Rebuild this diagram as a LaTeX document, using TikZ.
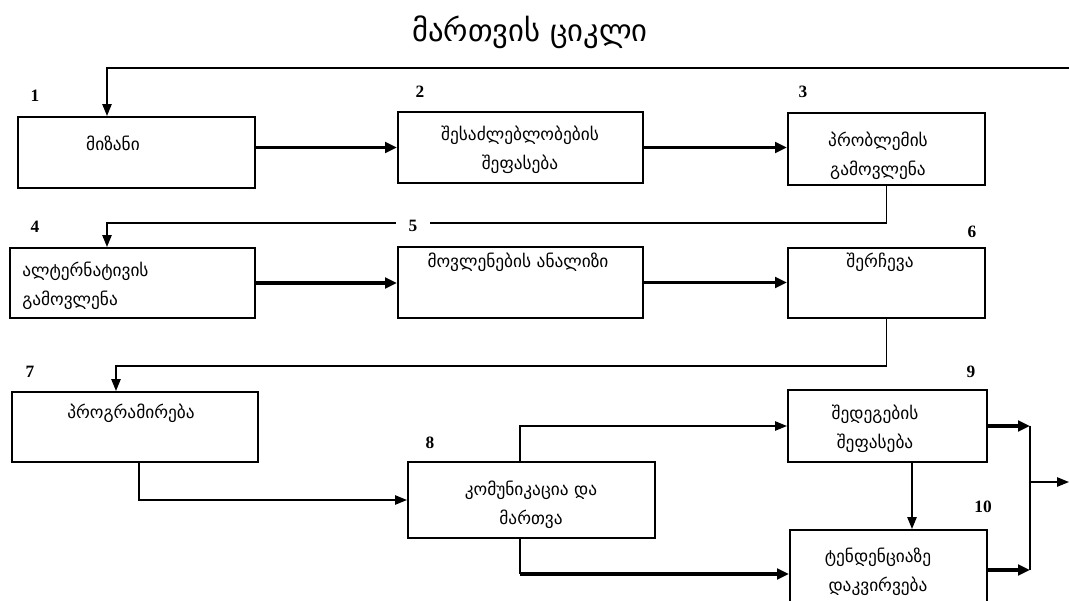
\documentclass[tikz,border=0pt]{standalone}
\usepackage{fontspec}
\setmainfont{DejaVu Sans}
\newfontfamily\numfont{Liberation Serif}
\usetikzlibrary{arrows.meta,fit,calc}
\begin{document}
\begin{tikzpicture}[x=0.75pt,y=-0.75pt,
  box/.style={draw, line width=1.5pt, inner sep=0pt},
  txt/.style={font=\fontsize{13}{22}\selectfont, align=center, inner sep=0pt},
  num/.style={font=\numfont\bfseries\fontsize{13}{15}\selectfont, inner sep=1pt},
  thk/.style={line width=2.5pt, -{Triangle[length=9pt,width=8pt]}},
  thn/.style={line width=1.2pt, -{Triangle[length=9pt,width=7pt]}},
  thnl/.style={line width=1.2pt}]
\useasboundingbox (0,0) rectangle (1069,600);
\node[font=\fontsize{23}{26}\selectfont] (title) at (530,32) {მართვის ციკლი};
% boxes
\node[box, fit={(18,117) (255,188)}] (b1) {};
\node[box, fit={(398,112) (643,183)}] (b2) {};
\node[box, fit={(788,113) (985,185)}] (b3) {};
\node[box, fit={(10,248) (255,318)}] (b4) {};
\node[box, fit={(398,247) (643,318)}] (b5) {};
\node[box, fit={(788,248) (985,318)}] (b6) {};
\node[box, fit={(12,392) (258,462)}] (b7) {};
\node[box, fit={(408,462) (655,538)}] (b8) {};
\node[box, fit={(788,390) (987,462)}] (b9) {};
\node[box, fit={(790,530) (987,602)}] (b10) {};
% texts
\node[txt] (t1) at (113,143) {მიზანი};
\node[txt] (t2) at (520,150) {შესაძლებლობების\\შეფასება};
\node[txt] (t3) at (878,156) {პრობლემის\\გამოვლენა};
\node[txt, align=left, anchor=west] (t4) at (22,286) {ალტერნატივის\\გამოვლენა};
\node[txt] (t5) at (518,262) {მოვლენების ანალიზი};
\node[txt] (t6) at (880,262) {შერჩევა};
\node[txt] (t7) at (131,413) {პროგრამირება};
\node[txt] (t8) at (531,505) {კომუნიკაცია და\\მართვა};
\node[txt] (t9) at (875,429) {შედეგების\\შეფასება};
\node[txt] (t10) at (878,572) {ტენდენციაზე\\დაკვირვება};
% connector helpers
\coordinate (R) at (1069,68);
\coordinate (J) at (1030,482);
\coordinate (E) at (1069,482);
\coordinate (b10o) at ($(b10.north east)+(0,41)$);
\coordinate (b10i) at ($(b10.north west)+(0,45)$);
\coordinate (b8o) at ($(b8.south west)+(113,0)$);
% connectors
\draw[thn] (R) -| ($(b1.north west)+(90,0)$);
\draw[thk] (b2.west -| b1.east) -- (b2.west);
\draw[thk] (b2.east) -- (b2.east -| b3.west);
\draw[thn] (b3.south) -- ++(0,37) -| ($(b4.north west)+(98,0)$);
\draw[thk] (b4.east) -- (b4.east -| b5.west);
\draw[thk] (b5.east) -- (b5.east -| b6.west);
\draw[thn] (b6.south) -- ++(0,47) -| ($(b7.north west)+(105,0)$);
\draw[thn] ($(b7.south west)+(128,0)$) |- (b8.west);
\draw[thn] ($(b8.north west)+(113,0)$) |- (b9.west);
\draw[thnl] (b8o) -- (b8o |- b10i);
\draw[thk] (b8o |- b10i) -- (b10i);
\draw[thn] ($(b9.south west)+(125,0)$) -- ($(b10.north west)+(123,0)$);
\draw[thk] (b9.east) -- (b9.east -| J);
\draw[thk] (b10o) -- (b10o -| J);
\draw[thnl] (b9.east -| J) -- (b10o -| J);
\draw[thn] (J) -- (E);
% numbers
\node[num] (n1) at (35,96) {1};
\node[num] (n2) at (420,92) {2};
\node[num] (n3) at (803,92) {3};
\node[num] (n4) at (35,227) {4};
\node[num, fill=white, minimum width=26pt, minimum height=8pt, inner sep=0pt] (n5) at (413,226) {5};
\node[num] (n6) at (972,232) {6};
\node[num] (n7) at (30,372) {7};
\node[num] (n8) at (430,443) {8};
\node[num] (n9) at (971,372) {9};
\node[num] (n10) at (983,507) {10};
\end{tikzpicture}
\end{document}
